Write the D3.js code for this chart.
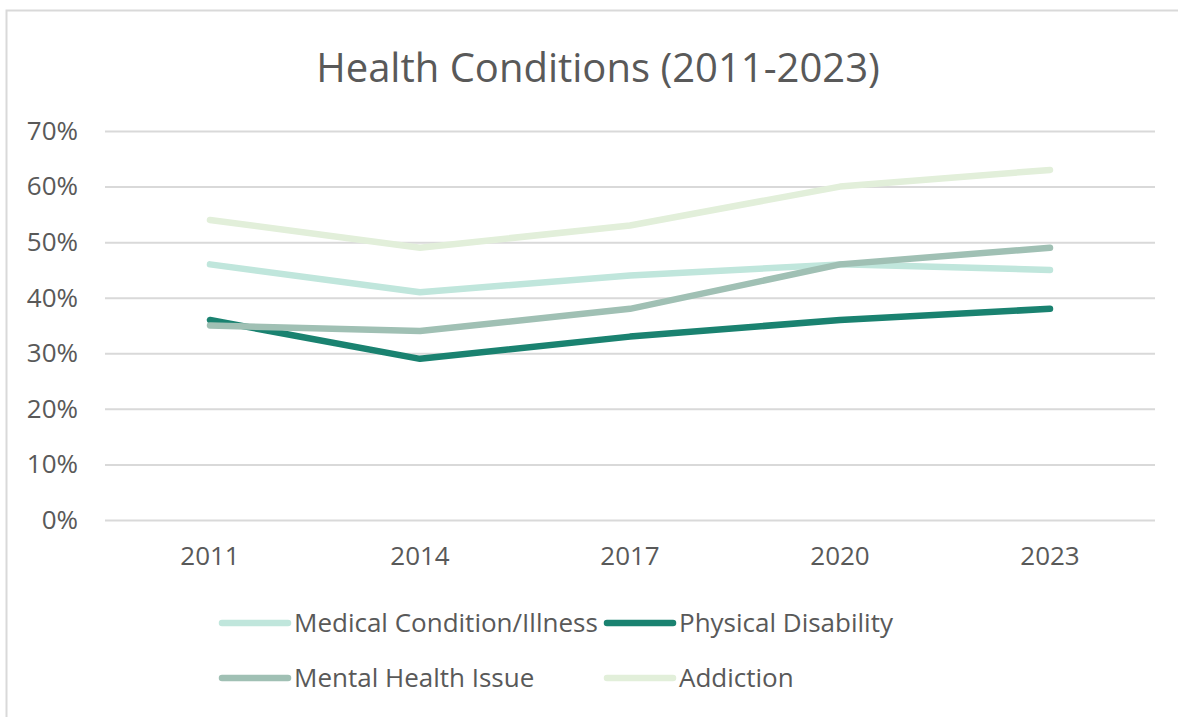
<!DOCTYPE html>
<html lang="en">
  <head>
    <meta charset="utf-8">
    <title>Health Conditions</title>
    <style>
      body { margin: 0; background: #fff; }
      svg { display: block; font-family: "Open Sans", sans-serif; }
    </style>
  </head>
  <body>
    <script src="https://cdn.jsdelivr.net/npm/d3@7"></script>
    <script>
      const years = ["2011", "2014", "2017", "2020", "2023"];
      const seriesNames = ["Medical Condition/Illness", "Physical Disability", "Mental Health Issue", "Addiction"];
      const medical = [0.46, 0.41, 0.44, 0.46, 0.45];
      const physical = [0.36, 0.29, 0.33, 0.36, 0.38];
      const mental = [0.35, 0.34, 0.38, 0.46, 0.49];
      const addiction = [0.54, 0.49, 0.53, 0.60, 0.63];
      const yTicks = [0, 0.1, 0.2, 0.3, 0.4, 0.5, 0.6, 0.7];
      const colors = ["#c0e6dc", "#1a8270", "#a0c0b4", "#e2efda"];

      const series = [medical, physical, mental, addiction];
      const w = 1178, h = 717;
      const textColor = "#595959";

      const svg = d3.select("body").append("svg")
        .attr("width", w)
        .attr("height", h);

      // chart frame (cut off at right/bottom in the source)
      svg.append("rect")
        .attr("x", 6.5).attr("y", 10.5)
        .attr("width", 1200).attr("height", 800)
        .attr("fill", "#fff")
        .attr("stroke", "#d9d9d9")
        .attr("stroke-width", 2);

      svg.append("text")
        .attr("x", 598)
        .attr("y", 82)
        .attr("text-anchor", "middle")
        .attr("font-size", 40)
        .attr("fill", textColor)
        .text("Health Conditions (2011-2023)");

      const x = d3.scaleBand()
        .domain(years)
        .range([105, 1155]);

      const y = d3.scaleLinear()
        .domain([0, 0.7])
        .range([520, 131]);

      // gridlines + y labels
      const yAxis = d3.axisLeft(y)
        .tickValues(yTicks)
        .tickFormat(d3.format(".0%"))
        .tickSize(-(1155 - 105))
        .tickPadding(27);

      const gy = svg.append("g")
        .attr("transform", "translate(105,0)")
        .call(yAxis);
      gy.select(".domain").remove();
      gy.selectAll(".tick line").attr("stroke", "#d9d9d9").attr("stroke-width", 2);
      gy.selectAll(".tick text")
        .attr("fill", textColor)
        .attr("font-size", 26)
        .attr("font-family", "Open Sans");

      const xAxis = d3.axisBottom(x).tickSize(0).tickPadding(27);
      const gx = svg.append("g")
        .attr("transform", "translate(0,520)")
        .call(xAxis);
      gx.select(".domain").remove();
      gx.selectAll(".tick text")
        .attr("fill", textColor)
        .attr("font-size", 26)
        .attr("font-family", "Open Sans");

      const line = d3.line()
        .x((d, i) => x(years[i]) + x.bandwidth() / 2)
        .y(d => y(d));

      svg.selectAll(".series")
        .data(series)
        .enter()
        .append("path")
        .attr("class", "series")
        .attr("d", d => line(d))
        .attr("fill", "none")
        .attr("stroke", (d, i) => colors[i])
        .attr("stroke-width", 6.5)
        .attr("stroke-linecap", "round")
        .attr("stroke-linejoin", "round");

      // legend, two rows of two
      const legendPos = [[222, 623], [607, 623], [222, 678], [607, 678]];
      const leg = svg.selectAll(".legend")
        .data(seriesNames)
        .enter()
        .append("g")
        .attr("class", "legend")
        .attr("transform", (d, i) => `translate(${legendPos[i][0]},${legendPos[i][1]})`);

      leg.append("line")
        .attr("x1", 0).attr("x2", 66)
        .attr("y1", 0).attr("y2", 0)
        .attr("stroke", (d, i) => colors[i])
        .attr("stroke-width", 6.5)
        .attr("stroke-linecap", "round");

      leg.append("text")
        .attr("x", 72)
        .attr("y", 0)
        .attr("dy", "0.35em")
        .attr("font-size", 26)
        .attr("fill", textColor)
        .text(d => d);
    </script>
  </body>
</html>
